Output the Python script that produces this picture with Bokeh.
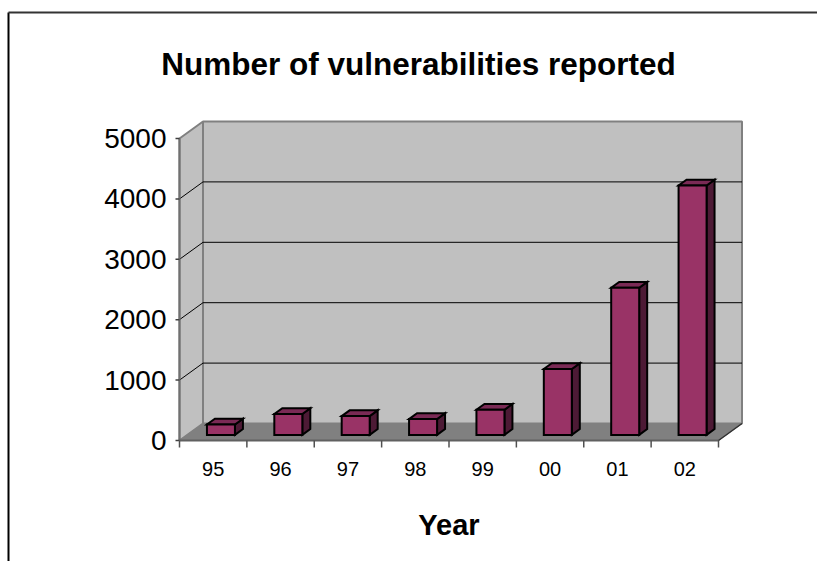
from bokeh.plotting import figure
from bokeh.models import Range1d
from bokeh.embed import file_html
from bokeh.resources import INLINE
from bokeh.core.properties import value

# ---- data ----
years = ["95", "96", "97", "98", "99", "00", "01", "02"]
counts = [171, 345, 311, 262, 417, 1090, 2437, 4129]
y_ticks = [0, 1000, 2000, 3000, 4000, 5000]
title_text = "Number of vulnerabilities reported"
x_title = "Year"

# ---- layout constants (pixels) ----
W, H = 817, 561
X0_PX, Y0_PX = 179.0, 440.0          # screen position of the front axes origin
PX_CAT = 67.375                      # pixels per category
PX_VAL = 302.0 / 5000.0              # pixels per unit value
DEPTH_PX = (23.5, 17.0)              # 3-D depth offset of the walls
BAR_W = 28.0 / PX_CAT                # bar front face width (category units)
BAR_DEPTH_FRAC = 0.34                # bar depth as fraction of wall depth

FONT = value("Liberation Sans")

x_range = Range1d(-X0_PX / PX_CAT, (W - X0_PX) / PX_CAT)
y_range = Range1d(-(H - Y0_PX) / PX_VAL, Y0_PX / PX_VAL)


def sx(px):
    return (px - X0_PX) / PX_CAT


def sy(py):
    return (Y0_PX - py) / PX_VAL


dx = DEPTH_PX[0] / PX_CAT
dy = DEPTH_PX[1] / PX_VAL
n = len(years)
ymax = y_ticks[-1]

p = figure(width=W, height=H, x_range=x_range, y_range=y_range,
           output_backend="svg", toolbar_location=None,
           x_axis_location=None, y_axis_location=None,
           min_border=0, outline_line_color=None,
           background_fill_color="white", border_fill_color="white")
p.xgrid.visible = False
p.ygrid.visible = False

WALL = "#c0c0c0"
FLOOR = "#808080"
EDGE = "#808080"

# back wall
p.quad(left=[dx], right=[n + dx], bottom=[dy], top=[ymax + dy],
       fill_color=WALL, line_color=EDGE, line_width=2)
# side wall
p.patch(x=[0, 0, dx, dx], y=[0, ymax, ymax + dy, dy],
        fill_color=WALL, line_color=EDGE, line_width=2)
# floor
p.patch(x=[0, n, n + dx, dx], y=[0, 0, dy, dy],
        fill_color=FLOOR, line_color=EDGE, line_width=1)

# gridlines on back wall and side wall
inner = y_ticks[1:-1]
p.multi_line(xs=[[dx, n + dx] for _ in inner], ys=[[t + dy, t + dy] for t in inner],
             line_color="black", line_width=1)
p.multi_line(xs=[[0, dx] for _ in inner], ys=[[t, t + dy] for t in inner],
             line_color="black", line_width=1)

# y axis
p.line(x=[0, 0], y=[0, ymax], line_color="#707070", line_width=2)
tick_len_x = 4 / PX_CAT
p.multi_line(xs=[[-tick_len_x, 0] for _ in y_ticks], ys=[[t, t] for t in y_ticks],
             line_color="#404040", line_width=1.5)

# x axis
p.line(x=[0, n], y=[0, 0], line_color="#606060", line_width=2)
tick_len_y = 7 / PX_VAL
p.multi_line(xs=[[i, i] for i in range(n + 1)], ys=[[0, -tick_len_y] for _ in range(n + 1)],
             line_color="#505050", line_width=1.5)
p.line(x=[n, n + dx], y=[0, dy], line_color="#303030", line_width=1.5)

# bars (3-D)
off = (1 - BAR_DEPTH_FRAC) / 2
ox, oy = off * dx, off * dy
bdx, bdy = BAR_DEPTH_FRAC * dx, BAR_DEPTH_FRAC * dy
front_xs, front_ys, side_xs, side_ys, top_xs, top_ys = [], [], [], [], [], []
for i, v in enumerate(counts):
    l = i + 0.5 - BAR_W / 2 + ox
    r = l + BAR_W
    b = oy
    t = v + oy
    front_xs.append([l, r, r, l])
    front_ys.append([b, b, t, t])
    side_xs.append([r, r + bdx, r + bdx, r])
    side_ys.append([b, b + bdy, t + bdy, t])
    top_xs.append([l, r, r + bdx, l + bdx])
    top_ys.append([t, t, t + bdy, t + bdy])

p.patches(xs=side_xs, ys=side_ys, fill_color="#4d1a35", line_color="black",
          line_width=2, line_join="miter")
p.patches(xs=top_xs, ys=top_ys, fill_color="#7a2a55", line_color="black",
          line_width=2, line_join="miter")
p.patches(xs=front_xs, ys=front_ys, fill_color="#993366", line_color="black",
          line_width=2, line_join="miter")

# tick labels
p.text(x=[sx(166)] * len(y_ticks), y=y_ticks, text=[str(t) for t in y_ticks],
       text_align="right", text_baseline="middle", text_font=FONT,
       text_font_size="28px", text_color="black")
p.text(x=[i + 0.5 for i in range(n)], y=[sy(468)] * n, text=years,
       text_align="center", text_baseline="middle", text_font=FONT,
       text_font_size="20px", text_color="black")

# titles
p.text(x=[sx(418)], y=[sy(63)], text=[title_text], text_align="center",
       text_baseline="alphabetic", text_font=FONT, text_font_style="bold",
       text_font_size="31.5px", text_color="black")
p.text(x=[n / 2], y=[sy(524)], text=[x_title], text_align="center",
       text_baseline="alphabetic", text_font=FONT, text_font_style="bold",
       text_font_size="29px", text_color="black")

# outer chart border (left and top)
p.line(x=[sx(8), sx(8)], y=[sy(H + 5), sy(12)], line_color="black", line_width=2)
p.line(x=[sx(8), sx(W + 30)], y=[sy(12), sy(12)], line_color="#333333", line_width=2)

open("out.html", "w").write(file_html(p, INLINE))
